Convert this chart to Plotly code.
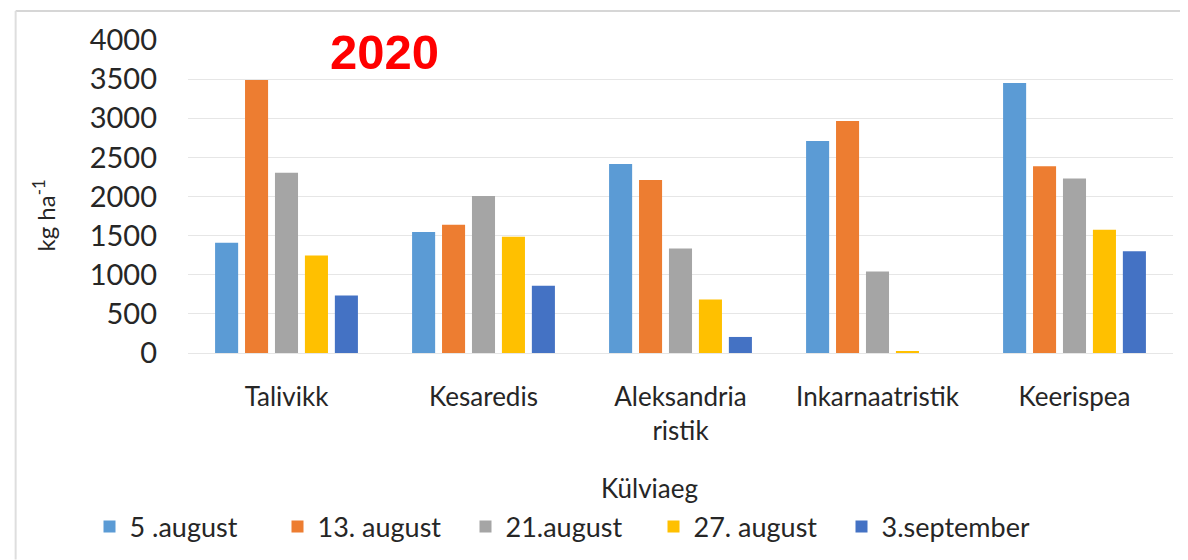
import plotly.graph_objects as go

# crops and sowing dates
categories = ["Talivikk", "Kesaredis", "Aleksandria<br>ristik", "Inkarnaatristik", "Keerispea"]
series_names = ["5 .august", "13. august", "21.august", "27. august", "3.september"]

aug05 = [1410, 1545, 2415, 2710, 3450]
aug13 = [3490, 1640, 2210, 2965, 2385]
aug21 = [2305, 2005, 1335, 1040, 2230]
aug27 = [1245, 1485, 685, 15, 1575]
sep03 = [735, 860, 205, 0, 1300]

y_ticks = [0, 500, 1000, 1500, 2000, 2500, 3000, 3500, 4000]

colors = ['#5B9BD5', '#ED7D31', '#A5A5A5', '#FFC000', '#4472C4']
values = [aug05, aug13, aug21, aug27, sep03]

FONT = "Lato"
TEXT = '#262626'

fig = go.Figure()
for name, vals, col in zip(series_names, values, colors):
    fig.add_trace(go.Bar(
        x=categories,
        y=vals,
        name=name,
        marker=dict(color=col, line=dict(width=0))
    ))

# page body adds an 8px offset, so the figure is drawn 8px smaller
fig.update_layout(
    width=1180,
    height=552,
    margin=dict(l=180, r=15, t=32, b=207, autoexpand=False),
    paper_bgcolor='white',
    plot_bgcolor='white',
    barmode='group',
    bargap=0.24,
    bargroupgap=0.23,
    font=dict(family=FONT, size=26, color=TEXT),
    showlegend=True,
    legend=dict(
        orientation='h',
        x=-0.1, xanchor='left',
        y=-0.556, yanchor='middle',
        font=dict(family=FONT, size=27, color=TEXT),
        itemwidth=30,
        entrywidth=143,
        entrywidthmode='pixels',
        tracegroupgap=0
    ),
    xaxis=dict(
        showgrid=False,
        showline=False,
        ticks='',
        tickfont=dict(family=FONT, size=26, color=TEXT),
        ticklabelstandoff=26
    ),
    yaxis=dict(
        range=[0, 4000],
        tickvals=y_ticks,
        showgrid=True,
        gridcolor='#E6E6E6',
        gridwidth=1,
        zeroline=True,
        zerolinecolor='#E6E6E6',
        zerolinewidth=1,
        showline=False,
        ticks='',
        tickfont=dict(family=FONT, size=29, color=TEXT),
        ticklabelstandoff=30
    )
)

# axis titles and year label
fig.add_annotation(
    text="kg ha<sup>-1</sup>", xref='paper', yref='paper',
    x=-0.146, y=0.44, xanchor='center', yanchor='middle',
    textangle=-90, showarrow=False,
    font=dict(family=FONT, size=24, color=TEXT)
)
fig.add_annotation(
    text="Külviaeg", xref='paper', yref='paper',
    x=0.469, y=-0.431, xanchor='center', yanchor='middle',
    showarrow=False,
    font=dict(family=FONT, size=26, color=TEXT)
)
fig.add_annotation(
    text="<b>2020</b>", xref='paper', yref='paper',
    x=0.142, y=0.962, xanchor='left', yanchor='middle',
    showarrow=False,
    font=dict(family="Liberation Sans", size=49, color='#FF0000')
)

# slide frame around the chart
fig.add_shape(type='line', xref='paper', yref='paper',
              x0=-0.175, x1=1.016, y0=1.093, y1=1.093,
              line=dict(color='#D6D6D6', width=2))
fig.add_shape(type='line', xref='paper', yref='paper',
              x0=-0.175, x1=-0.175, y0=1.093, y1=-0.66,
              line=dict(color='#DEDEDE', width=2))

fig.write_html("out.html")
